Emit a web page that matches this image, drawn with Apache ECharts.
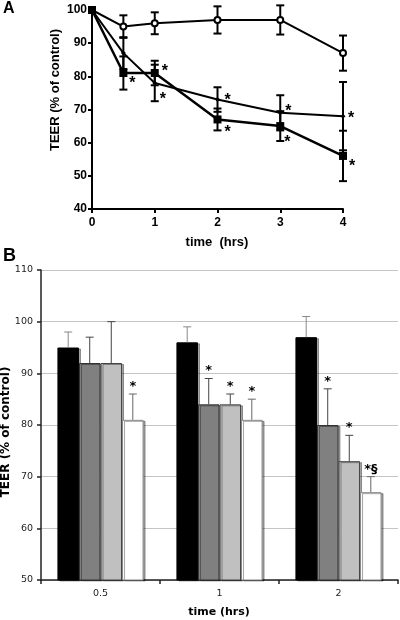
<!DOCTYPE html>
<html><head><meta charset="utf-8">
<script src="https://cdn.jsdelivr.net/npm/echarts@6/dist/echarts.min.js"></script>
<style>html,body{margin:0;padding:0;background:#fff}#c{width:400px;height:620px}</style>
</head><body><div id="c"></div>
<script>
// ---------- Panel A data ----------
const timesA = [0, 0.5, 1, 2, 3, 4];
const ticksAX = [0, 1, 2, 3, 4];
const circleMean = [100, 95, 96, 97, 97, 87];
const circleErr = [0, 3.4, 3.3, 4.1, 4.4, 5.3];
const diamondMean = [100, 87, 78, 73, 69, 68];
const diamondErr = [0, 4.8, 5.5, 3.7, 5.3, 10.3];
const squareMean = [100, 81, 81, 67, 65, 56];
const squareErr = [0, 5, 3.7, 3.3, 4.5, 7.6];
const diamondSig = [0, 0, 1, 1, 1, 1];
const squareSig = [0, 1, 1, 1, 1, 1];

// ---------- Panel B data ----------
const categoriesB = ['0.5', '1', '2'];
const blackB = [95, 96, 97];
const blackErrB = [3, 3, 4];
const darkB = [92, 84, 80];
const darkErrB = [5, 5, 7];
const lightB = [92, 84, 73];
const lightErrB = [8, 2, 5];
const whiteB = [81, 81, 67];
const whiteErrB = [5, 4, 3];
const blackSigB = ['', '', ''];
const darkSigB = ['', '*', '*'];
const lightSigB = ['', '*', '*'];
const whiteSigB = ['*', '*', '*§'];

const FA = 'Liberation Sans, Arial, sans-serif';
const FB = 'DejaVu Sans, Verdana, sans-serif';

// asterisk offsets (style, px) relative to point
const sqOff = [[0,0],[9,7],[10,-5],[10,9],[7,13],[9,7]];
const diOff = [[0,0],[0,0],[8,13],[10,-3],[8,-5],[8,-2]];

function errA(meanArr, errArr, sigArr, offs) {
  return {
    type: 'custom', xAxisIndex: 0, yAxisIndex: 0, z: 2, silent: true,
    data: timesA.map((t, i) => [t, meanArr[i], errArr[i]]),
    renderItem: function (params, api) {
      const i = params.dataIndex;
      const x = api.value(0), m = api.value(1), e = api.value(2);
      const ch = [];
      const st = { stroke: '#000', lineWidth: 2 };
      if (e > 0) {
        const t = api.coord([x, m + e]), b = api.coord([x, m - e]);
        ch.push({ type: 'line', shape: { x1: t[0], y1: t[1], x2: b[0], y2: b[1] }, style: st });
        ch.push({ type: 'line', shape: { x1: t[0] - 4, y1: t[1], x2: t[0] + 4, y2: t[1] }, style: st });
        ch.push({ type: 'line', shape: { x1: b[0] - 4, y1: b[1], x2: b[0] + 4, y2: b[1] }, style: st });
      }
      if (sigArr[i]) {
        const p = api.coord([x, m]);
        ch.push({ type: 'text', x: p[0] + offs[i][0], y: p[1] + offs[i][1] + 4,
          style: { text: '*', font: 'bold 16px ' + FA, fill: '#000', align: 'center', verticalAlign: 'middle' } });
      }
      return { type: 'group', children: ch };
    }
  };
}

const GAP = 0.276;
function errB(k, vals, errs, sigs, color) {
  return {
    type: 'custom', xAxisIndex: 1, yAxisIndex: 1, z: 5, silent: true,
    data: vals.map((v, i) => [i, v, errs[i]]),
    renderItem: function (params, api) {
      const i = params.dataIndex;
      const c = api.coord([api.value(0), api.value(1)]);
      const catW = api.size([1, 0])[0];
      const bw = catW * (1 - GAP) / 4;
      const x = c[0] + (k - 1.5) * bw;
      const top = api.coord([api.value(0), api.value(1) + api.value(2)])[1];
      const st = { stroke: color, lineWidth: 1 };
      const ch = [
        { type: 'line', shape: { x1: x, y1: c[1], x2: x, y2: top }, style: st },
        { type: 'line', shape: { x1: x - 4, y1: top, x2: x + 4, y2: top }, style: st }
      ];
      if (sigs[i]) {
        ch.push({ type: 'text', x: x, y: top - 1,
          style: { text: sigs[i], font: 'bold 13px ' + FB, fill: '#000', align: 'center', verticalAlign: 'bottom' } });
      }
      return { type: 'group', children: ch };
    }
  };
}

function barB(vals, color, border) {
  return {
    type: 'bar', xAxisIndex: 1, yAxisIndex: 1, data: vals,
    barGap: '0%', barCategoryGap: (GAP * 100) + '%',
    itemStyle: { color: color, borderColor: border, borderWidth: 1,
      shadowColor: 'rgba(0,0,0,0.35)', shadowOffsetX: 2, shadowOffsetY: 1, shadowBlur: 0 },
    silent: true
  };
}

const chart = echarts.init(document.getElementById('c'), null, { renderer: 'canvas' });
chart.setOption({
  animation: false,
  backgroundColor: '#fff',
  grid: [
    { left: 92, top: 10, width: 251, height: 199, containLabel: false },
    { left: 41, top: 270, width: 357, height: 310, containLabel: false }
  ],
  xAxis: [
    { type: 'value', gridIndex: 0, min: 0, max: 4, interval: 1,
      axisLine: { lineStyle: { color: '#000', width: 2 } },
      axisTick: { show: true, length: 4, lineStyle: { color: '#000', width: 2 } },
      axisLabel: { color: '#000', fontFamily: FA, fontWeight: 'bold', fontSize: 12, margin: 8,
        formatter: v => ticksAX.indexOf(v) >= 0 ? String(v) : '' },
      splitLine: { show: false } },
    { type: 'category', gridIndex: 1, data: categoriesB,
      axisLine: { lineStyle: { color: '#222', width: 1.5 } },
      axisTick: { show: true, length: 4, alignWithLabel: false, lineStyle: { color: '#222', width: 1.5 } },
      axisLabel: { color: '#222', fontFamily: FB, fontSize: 9.5, margin: 9 },
      splitLine: { show: false } }
  ],
  yAxis: [
    { type: 'value', gridIndex: 0, min: 40, max: 100, interval: 10,
      axisLine: { show: true, lineStyle: { color: '#000', width: 2 } },
      axisTick: { show: true, length: 4, lineStyle: { color: '#000', width: 2 } },
      axisLabel: { color: '#000', fontFamily: FA, fontWeight: 'bold', fontSize: 12, margin: 5 },
      splitLine: { show: false } },
    { type: 'value', gridIndex: 1, min: 50, max: 110, interval: 10,
      axisLine: { show: true, lineStyle: { color: '#222', width: 1.5 } },
      axisTick: { show: true, length: 4, lineStyle: { color: '#222', width: 1.5 } },
      axisLabel: { color: '#222', fontFamily: FB, fontSize: 9.5, margin: 8 },
      splitLine: { show: true, lineStyle: { color: '#c4c4c4', width: 1 } } }
  ],
  graphic: [
    { type: 'text', x: 3, y: 1, style: { text: 'A', font: 'bold 16px ' + FA, fill: '#000' } },
    { type: 'text', x: 3, y: 247, style: { text: 'B', font: 'bold 18px ' + FA, fill: '#000' } },
    { type: 'text', x: 55, y: 90, rotation: Math.PI / 2,
      style: { text: 'TEER (% of control)', font: 'bold 13px ' + FA, fill: '#000', align: 'center', verticalAlign: 'middle' } },
    { type: 'text', x: 217, y: 242,
      style: { text: 'time  (hrs)', font: 'bold 13px ' + FA, fill: '#000', align: 'center', verticalAlign: 'middle' } },
    { type: 'text', x: 6, y: 432, rotation: Math.PI / 2,
      style: { text: 'TEER (% of control)', font: 'bold 12px ' + FB, fill: '#000', align: 'center', verticalAlign: 'middle' } },
    { type: 'text', x: 219, y: 612,
      style: { text: 'time (hrs)', font: 'bold 11px ' + FB, fill: '#000', align: 'center', verticalAlign: 'middle' } }
  ],
  series: [
    { type: 'line', xAxisIndex: 0, yAxisIndex: 0, data: timesA.map((t, i) => [t, circleMean[i]]),
      symbol: 'emptyCircle', symbolSize: 6, showAllSymbol: true, lineStyle: { color: '#000', width: 2 },
      itemStyle: { color: '#000', borderColor: '#000', borderWidth: 1.2 }, z: 4 },
    { type: 'line', xAxisIndex: 0, yAxisIndex: 0, data: timesA.map((t, i) => [t, diamondMean[i]]),
      symbol: 'diamond', symbolSize: 5, showAllSymbol: true, lineStyle: { color: '#000', width: 2 },
      itemStyle: { color: '#000' }, z: 4 },
    { type: 'line', xAxisIndex: 0, yAxisIndex: 0, data: timesA.map((t, i) => [t, squareMean[i]]),
      symbol: 'rect', symbolSize: 8, showAllSymbol: true, lineStyle: { color: '#000', width: 2.5 },
      itemStyle: { color: '#000' }, z: 5 },
    errA(circleMean, circleErr, [0,0,0,0,0,0], diOff),
    errA(diamondMean, diamondErr, diamondSig, diOff),
    errA(squareMean, squareErr, squareSig, sqOff),
    barB(blackB, '#000', '#000'),
    barB(darkB, '#808080', '#333'),
    barB(lightB, '#c0c0c0', '#444'),
    barB(whiteB, '#fff', '#888'),
    errB(0, blackB, blackErrB, blackSigB, '#888'),
    errB(1, darkB, darkErrB, darkSigB, '#444'),
    errB(2, lightB, lightErrB, lightSigB, '#444'),
    errB(3, whiteB, whiteErrB, whiteSigB, '#666')
  ]
});
</script>
</body></html>
